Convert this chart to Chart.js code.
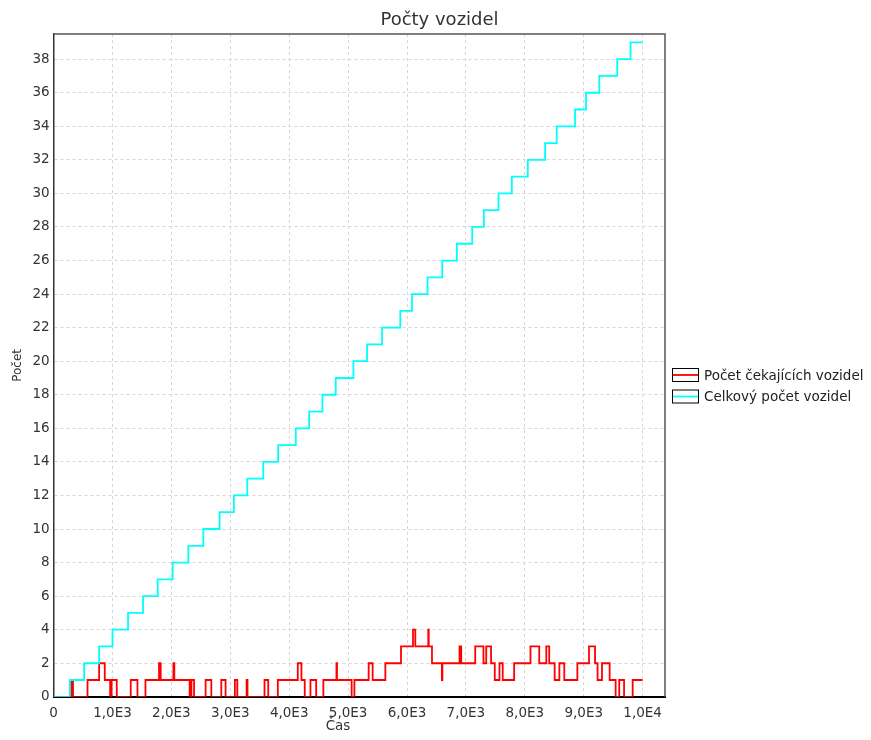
<!DOCTYPE html>
<html>
<head>
<meta charset="utf-8">
<script src="https://cdn.jsdelivr.net/npm/chart.js@4.4.1/dist/chart.umd.min.js"></script>
<style>
  html, body { margin: 0; padding: 0; background: #fff; }
</style>
</head>
<body>
<canvas id="chart" width="871" height="740"></canvas>
<script>
// ===== data =====
// Celkový počet vozidel: time of each step, value after the step
const totalTimes  = [0, 276, 519, 773, 1000, 1264, 1519, 1768, 2022, 2288, 2542, 2819, 3061, 3288, 3559, 3813, 4112, 4339, 4564, 4790,
                     5090, 5322, 5576, 5886, 6085, 6349, 6598, 6847, 7107, 7305, 7553, 7780, 8051, 8344, 8542, 8853, 9039, 9264, 9569, 9795, 10000];
const totalCounts = [0, 1, 2, 3, 4, 5, 6, 7, 8, 9, 10, 11, 12, 13, 14, 15, 16, 17, 18, 19,
                     20, 21, 22, 23, 24, 25, 26, 27, 28, 29, 30, 31, 32, 33, 34, 35, 36, 37, 38, 39, 39];

// Počet čekajících vozidel
const waitTimes  = [0, 300, 330, 576, 773, 869, 960, 985, 1073, 1310, 1424, 1560, 1790, 1819, 2034, 2050, 2310, 2340, 2385,
                    2581, 2678, 2847, 2920, 3078, 3119, 3277, 3292, 3581, 3644, 3807, 4146, 4208, 4264, 4361, 4458, 4580,
                    4802, 4812, 5060, 5107, 5349, 5417, 5632, 5898, 6102, 6141, 6361, 6369, 6424, 6593, 6601, 6892, 6920,
                    7158, 7298, 7345, 7427, 7490, 7570, 7625, 7819, 8096, 8245, 8365, 8414, 8507, 8587, 8670, 8892, 9090,
                    9192, 9235, 9310, 9440, 9542, 9603, 9685, 9831, 10000];
const waitCounts = [0, 1, 0, 1, 2, 1, 0, 1, 0, 1, 0, 1, 2, 1, 2, 1, 0, 1, 0,
                    1, 0, 1, 0, 1, 0, 1, 0, 1, 0, 1, 2, 1, 0, 1, 0, 1,
                    2, 1, 0, 1, 2, 1, 2, 3, 4, 3, 4, 3, 2, 1, 2, 3, 2,
                    3, 2, 3, 2, 1, 2, 1, 2, 3, 2, 3, 2, 1, 2, 1, 2, 3,
                    2, 1, 2, 1, 0, 1, 0, 1, 1];

const xTickValues = [0, 1000, 2000, 3000, 4000, 5000, 6000, 7000, 8000, 9000, 10000];
const xTickLabels = ['0', '1,0E3', '2,0E3', '3,0E3', '4,0E3', '5,0E3', '6,0E3', '7,0E3', '8,0E3', '9,0E3', '1,0E4'];
const yTickValues = [0, 2, 4, 6, 8, 10, 12, 14, 16, 18, 20, 22, 24, 26, 28, 30, 32, 34, 36, 38];

const TITLE = 'Počty vozidel';
const X_TITLE = 'Čas';
const FONT = 'DejaVu Sans';
const LEGEND_X = 672;
const LEGEND_Y = 375;

function toPoints(xs, ys) {
  return xs.map((x, i) => ({ x, y: ys[i] }));
}

// chart title, x axis title (it overlaps the tick row like the original), plot frame, legend on the right
const framePlugin = {
  id: 'frame',
  afterDraw(chart) {
    const { ctx, chartArea: a } = chart;
    ctx.save();
    ctx.strokeStyle = '#555';
    ctx.lineWidth = 1.5;
    ctx.beginPath();
    ctx.moveTo(a.left, a.top);
    ctx.lineTo(a.right, a.top);
    ctx.lineTo(a.right, a.bottom);
    ctx.stroke();

    ctx.fillStyle = '#333';
    ctx.font = `18px "${FONT}"`;
    ctx.textAlign = 'center';
    ctx.textBaseline = 'middle';
    ctx.fillText(TITLE, chart.width / 2 + 4, 20);

    ctx.font = `13.5px "${FONT}"`;
    ctx.fillText(X_TITLE, 338, 726);

    ctx.textAlign = 'left';
    const items = [chart.data.datasets[0], chart.data.datasets[1]];
    items.forEach((ds, i) => {
      const y = LEGEND_Y + i * 21.5;
      ctx.fillStyle = '#fff';
      ctx.fillRect(LEGEND_X, y - 6.5, 26, 13);
      ctx.strokeStyle = '#000';
      ctx.lineWidth = 1;
      ctx.strokeRect(LEGEND_X + 0.5, y - 6.5, 26, 13);
      ctx.strokeStyle = ds.borderColor;
      ctx.lineWidth = 1.8;
      ctx.beginPath();
      ctx.moveTo(LEGEND_X + 1, y);
      ctx.lineTo(LEGEND_X + 26, y);
      ctx.stroke();
      ctx.fillStyle = '#222';
      ctx.fillText(ds.label, LEGEND_X + 32, y + 1);
    });
    ctx.restore();
  }
};

const gridOpts = { color: '#d6d6d6', lineWidth: 1, drawTicks: false };

new Chart(document.getElementById('chart'), {
  type: 'line',
  data: {
    datasets: [
      { label: 'Počet čekajících vozidel', data: toPoints(waitTimes, waitCounts), borderColor: '#ff0000', borderWidth: 1.8, stepped: 'before', pointRadius: 0, fill: false, order: 1 },
      { label: 'Celkový počet vozidel', data: toPoints(totalTimes, totalCounts), borderColor: '#00ffff', borderWidth: 1.8, stepped: 'before', pointRadius: 0, fill: false, order: 0 },
    ],
  },
  options: {
    responsive: false,
    animation: false,
    layout: { padding: { left: 11, right: 206, top: 34, bottom: 9 } },
    plugins: {
      legend: { display: false },
      tooltip: { enabled: false },
      title: { display: false },
    },
    scales: {
      x: {
        type: 'linear',
        bounds: 'data',
        min: 0,
        max: 10380,
        afterBuildTicks: scale => { scale.ticks = xTickValues.map(value => ({ value })); },
        grid: gridOpts,
        border: { color: '#000', width: 2, dash: [3, 3] },
        ticks: {
          autoSkip: false,
          maxRotation: 0,
          padding: 9,
          color: '#333',
          font: { family: FONT, size: 13.5 },
          callback: v => xTickLabels[xTickValues.indexOf(v)],
        },
        title: { display: false },
      },
      y: {
        bounds: 'data',
        min: 0,
        max: 39.5,
        afterBuildTicks: scale => { scale.ticks = yTickValues.map(value => ({ value })); },
        grid: gridOpts,
        border: { color: '#333', width: 1.5, dash: [3, 3] },
        ticks: {
          padding: 4,
          color: '#333',
          font: { family: FONT, size: 13.5 },
        },
        title: { display: true, text: 'Počet', color: '#333', font: { family: FONT, size: 12 }, padding: { top: 0, bottom: 3 } },
      },
    },
  },
  plugins: [framePlugin],
});
</script>
</body>
</html>
